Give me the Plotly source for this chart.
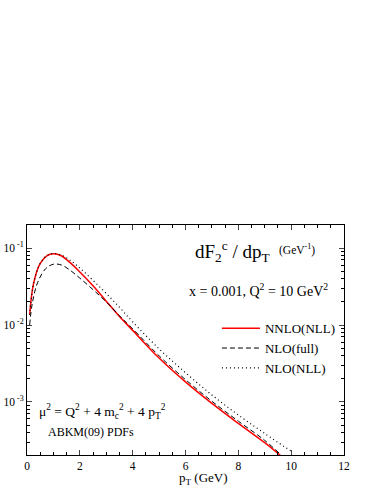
import plotly.graph_objects as go

# values (pT in GeV, dF2c/dpT in GeV^-1)
pt_nnlo = [0.1, 0.25, 0.5, 0.75, 1.0, 1.3, 1.6, 2.0, 2.5, 3.0, 3.5, 4.0, 5.0, 6.0, 7.0, 8.0, 9.0, 9.6]
f_nnlo = [0.0135, 0.0347, 0.0631, 0.0794, 0.0843, 0.0794, 0.0661, 0.049, 0.0324, 0.0204,
          0.0129, 0.00851, 0.00372, 0.00182, 0.000955, 0.000525, 0.000295, 0.0002]

pt_nlo_full = [0.1, 0.2, 0.4, 0.7, 1.0, 1.3, 1.6, 2.0, 2.5, 3.0, 3.5, 4.0, 5.0, 6.0, 7.0, 8.0, 9.0, 9.65]
f_nlo_full = [0.01, 0.0191, 0.0355, 0.0537, 0.0617, 0.0603, 0.0525, 0.0407, 0.0288, 0.020,
              0.0132, 0.00891, 0.00398, 0.00195, 0.00102, 0.000562, 0.000316, 0.0002]

pt_nlo_nll = [0.1, 0.25, 0.5, 0.75, 1.0, 1.3, 1.6, 2.0, 2.5, 3.0, 3.5, 4.0, 5.0, 6.0, 7.0, 8.0, 9.0, 10.0]
f_nlo_nll = [0.0135, 0.0347, 0.0631, 0.0794, 0.0851, 0.0813, 0.0708, 0.055, 0.038, 0.0257,
             0.017, 0.011, 0.0049, 0.0024, 0.00123, 0.000676, 0.000389, 0.000229]

x_ticks = [0, 2, 4, 6, 8, 10, 12]
y_ticks = [0.1, 0.01, 0.001]
y_ticktext = ["10<sup> -1</sup>", "10<sup> -2</sup>", "10<sup> -3</sup>"]

FONT = "Liberation Serif"

fig = go.Figure()
fig.add_trace(go.Scatter(x=pt_nnlo, y=f_nnlo, mode="lines", name="NNLO(NLL)",
                         line=dict(color="#ff0000", width=1.5, shape="spline")))
fig.add_trace(go.Scatter(x=pt_nlo_full, y=f_nlo_full, mode="lines", name="NLO(full)",
                         line=dict(color="black", width=1, dash="5px,3px", shape="spline")))
fig.add_trace(go.Scatter(x=pt_nlo_nll, y=f_nlo_nll, mode="lines", name="NLO(NLL)",
                         line=dict(color="black", width=1.2, dash="1px,3px", shape="spline")))

minor_y = [m * 10.0 ** e for e in (-4, -3, -2, -1) for m in range(2, 10)]

fig.update_xaxes(range=[0, 12], tickvals=x_ticks, ticks="inside", ticklen=5,
                 showline=True, linecolor="black", linewidth=1, mirror="ticks",
                 showgrid=False, zeroline=False, automargin=False,
                 tickfont=dict(family=FONT, size=11.5, color="black"),
                 minor=dict(dtick=0.5, ticks="inside", ticklen=3, tickcolor="black", showgrid=False))
fig.update_yaxes(type="log", range=[-3.69, -0.70], tickvals=y_ticks, ticktext=y_ticktext,
                 ticks="inside", ticklen=5,
                 showline=True, linecolor="black", linewidth=1, mirror="ticks",
                 showgrid=False, zeroline=False, automargin=False,
                 tickfont=dict(family=FONT, size=11.5, color="black"),
                 minor=dict(tickvals=minor_y, ticks="inside", ticklen=3, tickcolor="black", showgrid=False))

def px_x(p):
    return (p - 26.7) / 317.6

def px_y(p):
    return (455 - p) / 230.3

notes = [
    ("dF<sub>2</sub><sup>c</sup> / dp<sub>T</sub>", 193, 251, 19),
    ("(GeV<sup>-1</sup>)", 277, 249, 11.5),
    ("x = 0.001, Q<sup>2</sup> = 10 GeV<sup>2</sup>", 187, 290, 14),
    ("μ<sup>2</sup> = Q<sup>2</sup> + 4 m<sub>c</sub><sup>2</sup> + 4 p<sub>T</sub><sup>2</sup>", 37, 411, 13.5),
    ("ABKM(09) PDFs", 46, 432, 12),
    ("p<sub>T</sub> (GeV)", 177, 479, 13),
]
for text, x, y, size in notes:
    fig.add_annotation(text=text, xref="paper", yref="paper", x=px_x(x), y=px_y(y),
                       xanchor="left", yanchor="middle", showarrow=False,
                       font=dict(family=FONT, size=size, color="black"))

fig.update_layout(
    width=382, height=494,
    margin=dict(l=27, r=38, t=225, b=39),
    paper_bgcolor="white", plot_bgcolor="white",
    font=dict(family=FONT, color="black"),
    legend=dict(x=px_x(217), y=px_y(313), xanchor="left", yanchor="top",
                font=dict(family=FONT, size=13, color="black"),
                bgcolor="rgba(0,0,0,0)", tracegroupgap=0, itemwidth=38),
    showlegend=True,
)

# drop the default 8px page margin so the figure sits at the window's corner
fig.write_html("out.html", config={"displayModeBar": False},
               post_script="document.body.style.margin='0';")
